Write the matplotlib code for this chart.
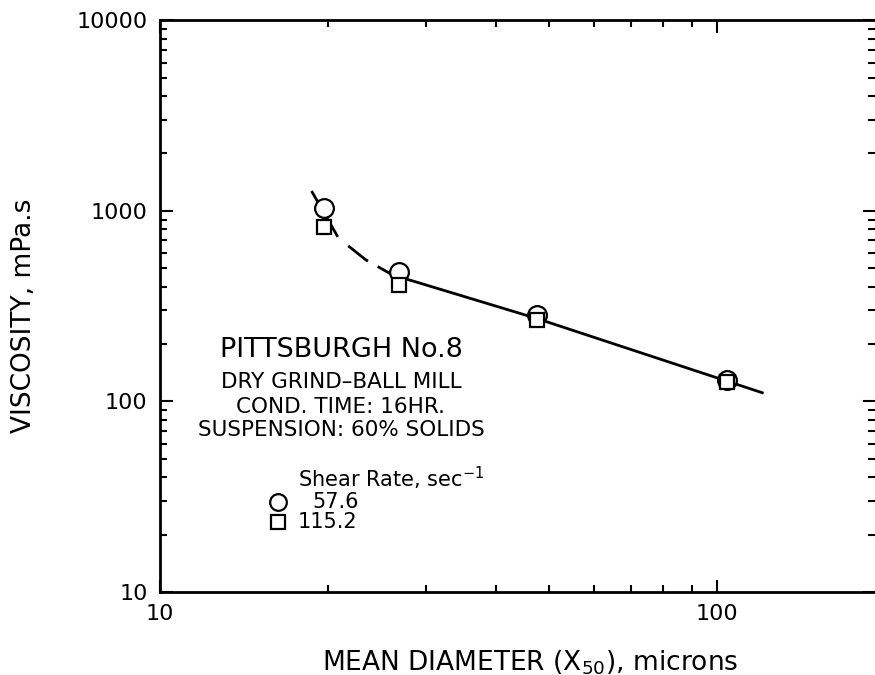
import matplotlib
matplotlib.use("Agg")
import matplotlib.pyplot as plt
from matplotlib.ticker import LogLocator, NullFormatter, FixedLocator, FixedFormatter

# mean diameter (x50), microns
diameter = [19.7, 26.8, 47.5, 104.0]
# viscosity, mPa.s at each shear rate
visc_57 = [1040, 475, 285, 130]
visc_115 = [820, 410, 266, 127]

# hand-drawn trend: dashed part, then solid part
dash_x = [18.7, 20.9, 23.4, 26.1]
dash_y = [1270, 720, 553, 462]
solid_x = [26.1, 47.5, 120.5]
solid_y = [462, 272, 111]

x_ticks = [10, 100]
y_ticks = [10, 100, 1000, 10000]

plt.rcParams["font.family"] = ["DejaVu Sans"]

fig = plt.figure(figsize=(8.75, 6.75), dpi=100)
ax = fig.add_axes([0.183, 0.123, 0.817, 0.847])

ax.plot(dash_x, dash_y, color="black", lw=2, dashes=(19, 5, 9, 4))
ax.plot(solid_x, solid_y, color="black", lw=2)

ax.plot(diameter, visc_57, ls="none", marker="o", ms=13.5, mfc="white",
        mec="black", mew=1.6, zorder=3)
ax.plot(diameter, visc_115, ls="none", marker="s", ms=10, mfc="white",
        mec="black", mew=1.6, zorder=4)

ax.set_xscale("log")
ax.set_yscale("log")
ax.set_xlim(10, 192)
ax.set_ylim(10, 10000)

ax.xaxis.set_major_locator(FixedLocator(x_ticks))
ax.xaxis.set_major_formatter(FixedFormatter([str(v) for v in x_ticks]))
ax.yaxis.set_major_locator(FixedLocator(y_ticks))
ax.yaxis.set_major_formatter(FixedFormatter([str(v) for v in y_ticks]))
ax.xaxis.set_minor_locator(LogLocator(base=10, subs=range(2, 10)))
ax.yaxis.set_minor_locator(LogLocator(base=10, subs=range(2, 10)))
ax.xaxis.set_minor_formatter(NullFormatter())
ax.yaxis.set_minor_formatter(NullFormatter())

ax.tick_params(which="both", direction="in", top=True, right=True,
               width=1.5, labelsize=16, pad=9)
ax.tick_params(which="major", length=9)
ax.tick_params(which="minor", length=5)
for side in ax.spines.values():
    side.set_linewidth(2)
ax.spines["right"].set_visible(False)

ax.set_ylabel("VISCOSITY, mPa.s", fontsize=19)
ax.yaxis.set_label_coords(-0.172, 0.483)
ax.set_xlabel("MEAN DIAMETER (X$_{50}$), microns", fontsize=19)
ax.xaxis.set_label_coords(0.517, -0.098)

tx = 0.253
ax.text(tx, 0.423, "PITTSBURGH No.8", transform=ax.transAxes,
        ha="center", va="center", fontsize=19.5)
ax.text(tx, 0.367, "DRY GRIND–BALL MILL", transform=ax.transAxes,
        ha="center", va="center", fontsize=15.5)
ax.text(tx, 0.323, "COND. TIME: 16HR.", transform=ax.transAxes,
        ha="center", va="center", fontsize=15.5)
ax.text(tx, 0.283, "SUSPENSION: 60% SOLIDS", transform=ax.transAxes,
        ha="center", va="center", fontsize=15.5)

ax.text(0.193, 0.199, "Shear Rate, sec$^{-1}$", transform=ax.transAxes,
        ha="left", va="center", fontsize=15)
ax.plot([0.165], [0.157], transform=ax.transAxes, marker="o", ms=12,
        mfc="white", mec="black", mew=1.6, ls="none", clip_on=False)
ax.plot([0.165], [0.122], transform=ax.transAxes, marker="s", ms=9.5,
        mfc="white", mec="black", mew=1.6, ls="none", clip_on=False)
ax.text(0.213, 0.157, "57.6", transform=ax.transAxes,
        ha="left", va="center", fontsize=15)
ax.text(0.193, 0.122, "115.2", transform=ax.transAxes,
        ha="left", va="center", fontsize=15)

fig.savefig("out.png", dpi=100)
